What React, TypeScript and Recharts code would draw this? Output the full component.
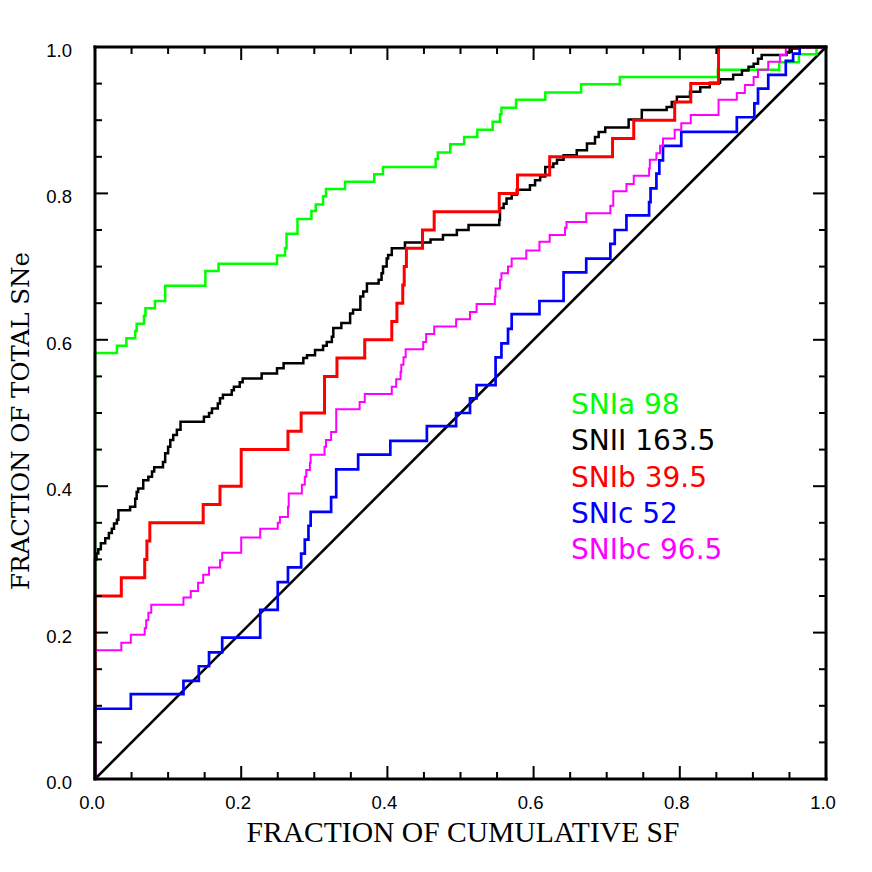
import React from 'react';
import { LineChart, Line, XAxis, YAxis } from 'recharts';

// ---- axis ticks ----
const axisTicks = [0, 0.05, 0.1, 0.15, 0.2, 0.25, 0.3, 0.35, 0.4, 0.45, 0.5, 0.55, 0.6, 0.65, 0.7, 0.75, 0.8, 0.85, 0.9, 0.95, 1];
const tickLabels = ['0.0', '0.2', '0.4', '0.6', '0.8', '1.0'];

// ---- SNIa (green) ----
const snIaX = [0, 0, 0.030, 0.043, 0.055, 0.057, 0.067, 0.069, 0.082, 0.096, 0.151, 0.169, 0.249, 0.260, 0.262, 0.277, 0.296, 0.302, 0.312, 0.316, 0.342, 0.382, 0.394, 0.466, 0.469, 0.486, 0.505, 0.523, 0.544, 0.554, 0.556, 0.576, 0.616, 0.665, 0.718, 0.852, 0.936, 0.963, 0.987, 1];
const snIaY = [0, 0.582, 0.592, 0.602, 0.612, 0.622, 0.633, 0.643, 0.653, 0.674, 0.694, 0.704, 0.715, 0.725, 0.745, 0.765, 0.776, 0.785, 0.796, 0.806, 0.816, 0.826, 0.836, 0.847, 0.856, 0.867, 0.877, 0.887, 0.898, 0.908, 0.917, 0.928, 0.938, 0.949, 0.959, 0.969, 0.979, 0.990, 1.0, 1.0];

// ---- SNII (black) ----
const snIIX = [0, 0, 0.002, 0.0045, 0.008, 0.014, 0.019, 0.023, 0.026, 0.030, 0.032, 0.048, 0.055, 0.057, 0.059, 0.066, 0.073, 0.078, 0.081, 0.093, 0.096, 0.100, 0.103, 0.107, 0.112, 0.117, 0.149, 0.156, 0.160, 0.168, 0.171, 0.175, 0.187, 0.190, 0.198, 0.202, 0.228, 0.249, 0.258, 0.285, 0.290, 0.301, 0.312, 0.317, 0.324, 0.326, 0.337, 0.349, 0.353, 0.363, 0.367, 0.372, 0.388, 0.392, 0.394, 0.399, 0.401, 0.406, 0.424, 0.459, 0.476, 0.495, 0.511, 0.553, 0.554, 0.559, 0.563, 0.570, 0.577, 0.595, 0.602, 0.609, 0.616, 0.627, 0.632, 0.641, 0.659, 0.673, 0.684, 0.689, 0.698, 0.730, 0.748, 0.782, 0.789, 0.796, 0.814, 0.828, 0.841, 0.855, 0.873, 0.885, 0.894, 0.901, 0.907, 0.912, 0.946, 0.953, 0.964, 1];
const snIIY = [0, 0.300, 0.308, 0.314, 0.322, 0.329, 0.336, 0.342, 0.349, 0.354, 0.367, 0.372, 0.383, 0.392, 0.397, 0.408, 0.413, 0.420, 0.426, 0.433, 0.445, 0.454, 0.463, 0.470, 0.477, 0.488, 0.495, 0.500, 0.506, 0.513, 0.520, 0.525, 0.531, 0.536, 0.542, 0.547, 0.554, 0.561, 0.568, 0.575, 0.579, 0.586, 0.592, 0.597, 0.604, 0.616, 0.623, 0.636, 0.641, 0.659, 0.666, 0.677, 0.682, 0.691, 0.700, 0.711, 0.716, 0.725, 0.733, 0.737, 0.743, 0.750, 0.757, 0.764, 0.780, 0.786, 0.793, 0.798, 0.805, 0.811, 0.818, 0.823, 0.836, 0.841, 0.846, 0.852, 0.859, 0.868, 0.877, 0.884, 0.890, 0.901, 0.914, 0.918, 0.925, 0.932, 0.939, 0.945, 0.951, 0.956, 0.962, 0.968, 0.973, 0.977, 0.984, 0.989, 0.993, 0.998, 1.0, 1.0];

// ---- SNIb (red) ----
const snIbX = [0, 0, 0.036, 0.068, 0.071, 0.075, 0.148, 0.171, 0.200, 0.264, 0.282, 0.314, 0.331, 0.369, 0.406, 0.413, 0.421, 0.423, 0.426, 0.448, 0.464, 0.553, 0.578, 0.622, 0.708, 0.737, 0.793, 0.815, 0.853, 1];
const snIbY = [0, 0.25, 0.275, 0.300, 0.325, 0.350, 0.375, 0.400, 0.450, 0.475, 0.500, 0.550, 0.575, 0.600, 0.625, 0.650, 0.675, 0.700, 0.725, 0.750, 0.775, 0.800, 0.825, 0.850, 0.875, 0.900, 0.925, 0.950, 1.0, 1.0];

// ---- SNIc (blue) ----
const snIcX = [0, 0, 0.049, 0.121, 0.142, 0.156, 0.174, 0.226, 0.250, 0.264, 0.282, 0.287, 0.292, 0.295, 0.323, 0.330, 0.360, 0.404, 0.454, 0.494, 0.513, 0.522, 0.548, 0.556, 0.565, 0.570, 0.608, 0.641, 0.672, 0.705, 0.711, 0.727, 0.758, 0.760, 0.768, 0.772, 0.777, 0.802, 0.878, 0.902, 0.907, 0.921, 0.945, 0.955, 0.964, 1];
const snIcY = [0, 0.096, 0.116, 0.134, 0.154, 0.173, 0.193, 0.231, 0.269, 0.289, 0.308, 0.327, 0.346, 0.365, 0.385, 0.423, 0.443, 0.462, 0.482, 0.500, 0.520, 0.538, 0.576, 0.595, 0.615, 0.635, 0.653, 0.692, 0.711, 0.731, 0.750, 0.770, 0.788, 0.807, 0.827, 0.845, 0.865, 0.884, 0.904, 0.923, 0.943, 0.962, 0.981, 0.991, 1.0, 1.0];

// ---- SNIbc (magenta) ----
const snIbcX = [0, 0, 0.036, 0.049, 0.068, 0.070, 0.073, 0.077, 0.121, 0.131, 0.141, 0.148, 0.156, 0.171, 0.174, 0.200, 0.226, 0.250, 0.253, 0.264, 0.265, 0.283, 0.287, 0.289, 0.294, 0.295, 0.314, 0.316, 0.323, 0.330, 0.362, 0.369, 0.406, 0.412, 0.418, 0.419, 0.422, 0.425, 0.449, 0.453, 0.464, 0.494, 0.513, 0.522, 0.547, 0.548, 0.554, 0.556, 0.565, 0.570, 0.590, 0.608, 0.622, 0.643, 0.645, 0.672, 0.705, 0.709, 0.727, 0.737, 0.758, 0.759, 0.768, 0.773, 0.777, 0.793, 0.802, 0.815, 0.853, 0.878, 0.889, 0.901, 0.907, 0.921, 0.937, 0.945, 1];
const snIbcY = [0, 0.176, 0.186, 0.197, 0.206, 0.217, 0.227, 0.238, 0.248, 0.257, 0.268, 0.279, 0.289, 0.299, 0.309, 0.330, 0.342, 0.350, 0.358, 0.372, 0.390, 0.402, 0.413, 0.422, 0.432, 0.443, 0.454, 0.463, 0.474, 0.505, 0.515, 0.526, 0.536, 0.546, 0.556, 0.566, 0.576, 0.587, 0.597, 0.608, 0.618, 0.628, 0.638, 0.649, 0.659, 0.670, 0.682, 0.691, 0.700, 0.711, 0.722, 0.734, 0.743, 0.753, 0.761, 0.773, 0.783, 0.803, 0.813, 0.824, 0.834, 0.846, 0.855, 0.865, 0.875, 0.887, 0.896, 0.907, 0.928, 0.937, 0.948, 0.959, 0.969, 0.980, 0.989, 1.0, 1.0];

// ---- equality line ----
const diagX = [0, 1];
const diagY = [0, 1];

// ---- legend ----
const legendLabels = ['SNIa 98', 'SNII 163.5', 'SNIb 39.5', 'SNIc 52', 'SNIbc 96.5'];
const legendColors = ['#00ff00', '#000000', '#ff0000', '#0000ff', '#ff00ff'];

const xTitle = 'FRACTION OF CUMULATIVE SF';
const yTitle = 'FRACTION OF TOTAL SNe';

const toPoints = (xs: number[], ys: number[]) => xs.map((x, i) => ({ x, y: ys[i] }));

const series = [
  { name: 'SNIa', data: toPoints(snIaX, snIaY), color: '#00ff00', width: 2.5 },
  { name: 'SNII', data: toPoints(snIIX, snIIY), color: '#000000', width: 2.5 },
  { name: 'SNIb', data: toPoints(snIbX, snIbY), color: '#ff0000', width: 3 },
  { name: 'SNIc', data: toPoints(snIcX, snIcY), color: '#0000ff', width: 2.7 },
  { name: 'SNIbc', data: toPoints(snIbcX, snIbcY), color: '#ff00ff', width: 2 },
];

const tickFont = '"Liberation Sans", Arial, sans-serif';

function makeTick(side: 'bottom' | 'top' | 'left' | 'right') {
  return (props: any) => {
    const { x, y, payload } = props;
    const v = payload.value as number;
    const idx = Math.round(v * 5);
    const major = Math.abs(v * 5 - idx) < 1e-6;
    const len = major ? 13 : 7;
    let x2 = x;
    let y2 = y;
    if (side === 'bottom') y2 = y - len;
    if (side === 'top') y2 = y + len;
    if (side === 'left') x2 = x + len;
    if (side === 'right') x2 = x - len;
    let label: React.ReactNode = null;
    if (major && side === 'bottom') {
      label = (
        <text x={x - 3} y={y + 30} textAnchor="middle" fontSize={18.5} fontFamily={tickFont} fill="#000">
          {tickLabels[idx]}
        </text>
      );
    }
    if (major && side === 'left') {
      label = (
        <text x={x - 23} y={y + 10} textAnchor="end" fontSize={18.5} fontFamily={tickFont} fill="#000">
          {tickLabels[idx]}
        </text>
      );
    }
    return (
      <g>
        <line x1={x} y1={y} x2={x2} y2={y2} stroke="#000" strokeWidth={2} />
        {label}
      </g>
    );
  };
}

const axisLineStyle = { stroke: '#000', strokeWidth: 3, strokeLinecap: 'square' as const };

export default function App() {
  return (
    <div style={{ position: 'relative', width: 856, height: 856, background: '#fff' }}>
      <LineChart width={856} height={856} margin={{ top: 29, right: 28, bottom: 45, left: 27 }}>
        <XAxis
          xAxisId="bottom"
          dataKey="x"
          type="number"
          domain={[0, 1]}
          ticks={axisTicks}
          interval={0}
          orientation="bottom"
          height={40}
          tickLine={false}
          tickSize={0}
          tickMargin={0}
          axisLine={axisLineStyle}
          tick={makeTick('bottom')}
        />
        <XAxis
          xAxisId="top"
          dataKey="x"
          type="number"
          domain={[0, 1]}
          ticks={axisTicks}
          interval={0}
          orientation="top"
          height={10}
          tickLine={false}
          tickSize={0}
          tickMargin={0}
          axisLine={axisLineStyle}
          tick={makeTick('top')}
        />
        <YAxis
          yAxisId="left"
          type="number"
          domain={[0, 1]}
          ticks={axisTicks}
          interval={0}
          orientation="left"
          width={60}
          tickLine={false}
          tickSize={0}
          tickMargin={0}
          axisLine={axisLineStyle}
          tick={makeTick('left')}
        />
        <YAxis
          yAxisId="right"
          type="number"
          domain={[0, 1]}
          ticks={axisTicks}
          interval={0}
          orientation="right"
          width={10}
          tickLine={false}
          tickSize={0}
          tickMargin={0}
          axisLine={axisLineStyle}
          tick={makeTick('right')}
        />
        <Line
          xAxisId="top"
          yAxisId="right"
          data={toPoints(diagX, diagY)}
          dataKey="y"
          type="linear"
          stroke="#000"
          strokeWidth={2.6}
          dot={false}
          activeDot={false}
          isAnimationActive={false}
        />
        {series.map((s) => (
          <Line
            key={s.name}
            xAxisId="bottom"
            yAxisId="left"
            data={s.data}
            dataKey="y"
            name={s.name}
            type="stepAfter"
            stroke={s.color}
            strokeWidth={s.width}
            strokeLinejoin="miter"
            dot={false}
            activeDot={false}
            isAnimationActive={false}
          />
        ))}
      </LineChart>
      <svg
        width={872}
        height={872}
        style={{ position: 'absolute', left: -8, top: -8, pointerEvents: 'none', overflow: 'visible' }}
      >
        {legendLabels.map((t, i) => (
          <text
            key={t}
            x={571}
            y={414 + i * 36.3}
            fontSize={28}
            fontFamily='"DejaVu Sans", sans-serif'
            fill={legendColors[i]}
          >
            {t}
          </text>
        ))}
        <text
          x={463}
          y={842}
          textAnchor="middle"
          fontSize={30}
          fontFamily='"Liberation Serif", "Times New Roman", serif'
          textLength={433}
          lengthAdjust="spacingAndGlyphs"
          fill="#000"
        >
          {xTitle}
        </text>
        <text
          x={29}
          y={421}
          transform="rotate(-90, 29, 421)"
          textAnchor="middle"
          fontSize={25}
          fontFamily='"DejaVu Serif", serif'
          textLength={338}
          lengthAdjust="spacingAndGlyphs"
          fill="#000"
        >
          {yTitle}
        </text>
      </svg>
    </div>
  );
}
